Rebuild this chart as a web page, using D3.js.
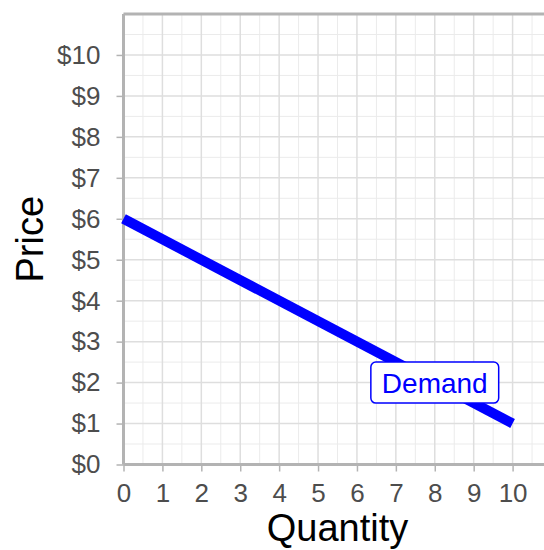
<!DOCTYPE html>
<html>
<head>
<meta charset="utf-8">
<script src="https://cdn.jsdelivr.net/npm/d3@7"></script>
<style>
  body { margin: 0; background: #fff; }
  svg { display: block; font-family: "Liberation Sans", Arial, sans-serif; }
  .tick text { fill: #4d4d4d; font-size: 26px; }
</style>
</head>
<body>
<svg id="chart" width="544" height="550"></svg>
<script>
const quantities = [0, 10];
const prices = [6, 1];
const xTicks = [0, 1, 2, 3, 4, 5, 6, 7, 8, 9, 10];
const yTicks = [0, 1, 2, 3, 4, 5, 6, 7, 8, 9, 10];
const curveLabel = "Demand";
const labelPos = [8, 2];

const margin = {top: 14, left: 123.5};
const width = 428, height = 450.5;

const svg = d3.select("#chart");
const g = svg.append("g")
  .attr("transform", "translate(" + margin.left + "," + margin.top + ")");

const xScale = d3.scaleLinear().domain([0, 11]).range([0, width]);
const yScale = d3.scaleLinear().domain([0, 11]).range([height, 0]);

// grid: minor at halves, major at integers
const minor = d3.range(0.5, 11, 1);
const major = d3.range(0, 12, 1);
g.selectAll(".vminor").data(minor).enter().append("line")
  .attr("x1", d => xScale(d)).attr("x2", d => xScale(d))
  .attr("y1", 0).attr("y2", height)
  .attr("stroke", "#ebebeb").attr("stroke-width", 1);
g.selectAll(".hminor").data(minor).enter().append("line")
  .attr("y1", d => yScale(d)).attr("y2", d => yScale(d))
  .attr("x1", 0).attr("x2", width)
  .attr("stroke", "#ebebeb").attr("stroke-width", 1);
g.selectAll(".vmajor").data(major).enter().append("line")
  .attr("x1", d => xScale(d)).attr("x2", d => xScale(d))
  .attr("y1", 0).attr("y2", height)
  .attr("stroke", "#dedede").attr("stroke-width", 1.5);
g.selectAll(".hmajor").data(major).enter().append("line")
  .attr("y1", d => yScale(d)).attr("y2", d => yScale(d))
  .attr("x1", 0).attr("x2", width)
  .attr("stroke", "#dedede").attr("stroke-width", 1.5);

// axes
const xAxis = d3.axisBottom(xScale).tickValues(xTicks).tickSize(7).tickPadding(12);
const yAxis = d3.axisLeft(yScale).tickValues(yTicks).tickSize(7).tickPadding(16)
  .tickFormat(d => "$" + d);

g.append("g").attr("class", "axis-x")
  .attr("transform", "translate(0," + height + ")")
  .call(xAxis)
  .call(a => a.select(".domain").remove())
  .call(a => a.selectAll(".tick line").attr("stroke", "#b3b3b3").attr("stroke-width", 1.5));
g.append("g").attr("class", "axis-y")
  .call(yAxis)
  .call(a => a.select(".domain").remove())
  .call(a => a.selectAll(".tick line").attr("stroke", "#b3b3b3").attr("stroke-width", 1.5));
g.selectAll(".axis-x, .axis-y").attr("font-family", null).attr("font-size", null);

// frame lines
g.append("line").attr("x1", 0).attr("x2", 0).attr("y1", 0).attr("y2", height)
  .attr("stroke", "#b3b3b3").attr("stroke-width", 3);
g.append("line").attr("x1", 0).attr("x2", width).attr("y1", 0).attr("y2", 0)
  .attr("stroke", "#b3b3b3").attr("stroke-width", 3);
g.append("line").attr("x1", 0).attr("x2", width).attr("y1", height).attr("y2", height)
  .attr("stroke", "#b3b3b3").attr("stroke-width", 3);

// demand line
const pts = quantities.map((q, i) => [q, prices[i]]);
g.append("path")
  .datum(pts)
  .attr("d", d3.line().x(d => xScale(d[0])).y(d => yScale(d[1])))
  .attr("fill", "none").attr("stroke", "#0000ff").attr("stroke-width", 10);

// label
const lab = g.append("g")
  .attr("transform", "translate(" + xScale(labelPos[0]) + "," + yScale(labelPos[1]) + ")");
const txt = lab.append("text")
  .attr("text-anchor", "middle").attr("dy", "0.36em")
  .attr("fill", "#0000ff").attr("font-size", 28)
  .text(curveLabel);
const bb = txt.node().getBBox();
lab.insert("rect", "text")
  .attr("x", bb.x - 11).attr("y", -20.5).attr("width", bb.width + 22).attr("height", 41)
  .attr("rx", 5).attr("fill", "#fff").attr("stroke", "#0000ff").attr("stroke-width", 1.5);

// axis titles
svg.append("text")
  .attr("x", margin.left + xScale(5.5)).attr("y", 541)
  .attr("text-anchor", "middle").attr("font-size", 38).attr("fill", "#000")
  .text("Quantity");
svg.append("text")
  .attr("transform", "translate(43," + (margin.top + yScale(5.5)) + ") rotate(-90)")
  .attr("text-anchor", "middle").attr("font-size", 38).attr("fill", "#000")
  .text("Price");
</script>
</body>
</html>
